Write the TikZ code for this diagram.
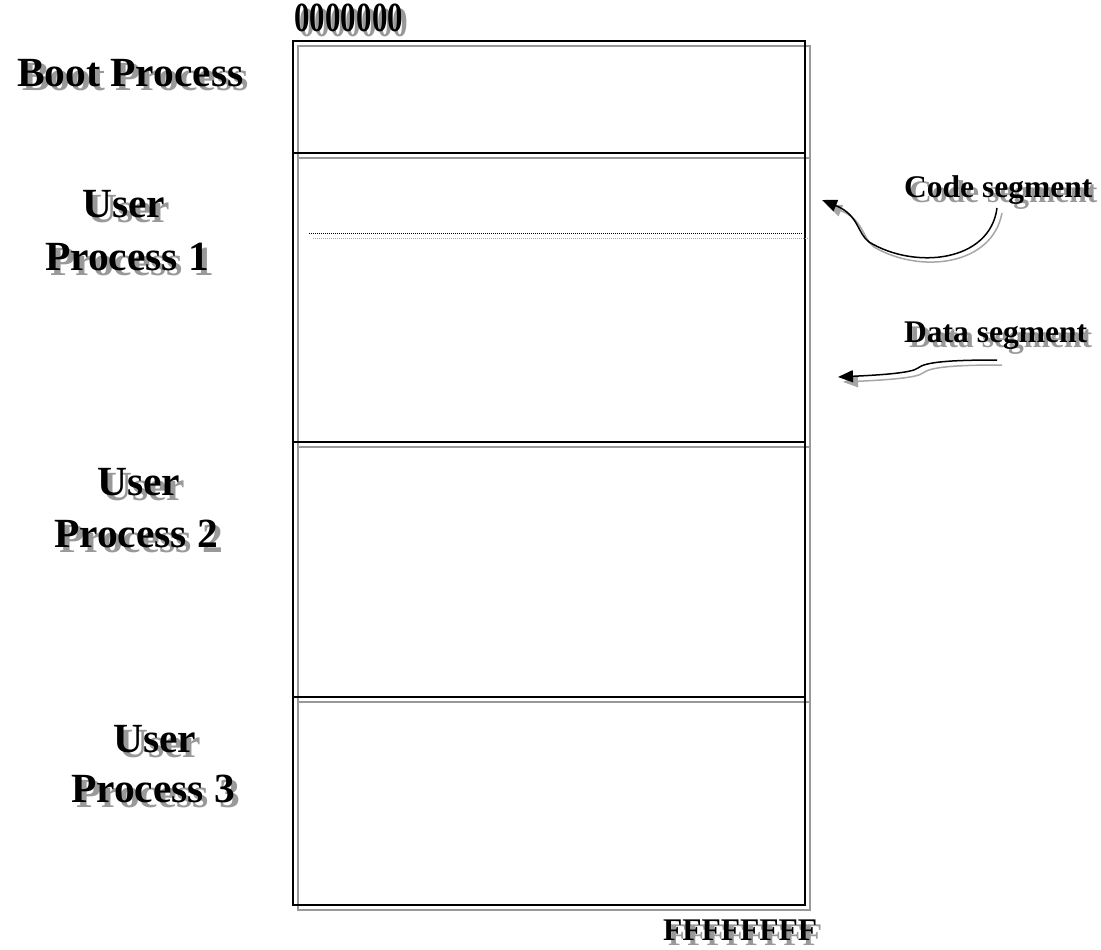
\documentclass[tikz,border=0pt]{standalone}
\usepackage{fontspec}
\setmainfont{Liberation Serif}
\usetikzlibrary{arrows.meta}
\tikzset{
  txt/.style={inner sep=0pt, anchor=base west, text=black},
  shtxt/.style={inner sep=0pt, anchor=base west, text=black!40},
  memblk/.style={draw=black, line width=1.6pt},
  memshadow/.style={draw=black!40, line width=1.6pt},
  pointer/.style={line width=1.5pt, -{Triangle[length=15pt,width=12pt]}},
  pointershadow/.style={line width=1.5pt, draw=black!35, -{Triangle[length=15pt,width=12pt]}, black!35},
}
\newcommand\stxt[5]{%
  \node[shtxt,font=#4] at (#2+5,#3+5) {#5};
  \node[txt,font=#4] (#1) at (#2,#3) {#5};}
\newcommand\bigf{\fontsize{41.5}{48}\selectfont\bfseries}
\newcommand\midf{\fontsize{31.5}{36}\selectfont\bfseries}
\begin{document}
\begin{tikzpicture}[x=1pt,y=-1pt]
\useasboundingbox (0,0) rectangle (1101,950);
% box shadows
\draw[memshadow] (298,46) rectangle (810,158);
\draw[memshadow] (298,158) rectangle (810,447);
\draw[memshadow] (298,447) rectangle (810,702);
\draw[memshadow] (298,702) rectangle (810,910);
% boxes
\draw[memblk] (293,41) rectangle (805,153);
\draw[memblk] (293,153) rectangle (805,442);
\draw[memblk] (293,442) rectangle (805,697);
\draw[memblk] (293,697) rectangle (805,905);
% dotted separator
\draw[black!35, line width=0.9pt, dash pattern=on 1pt off 1pt] (313,238) -- (808,238);
\draw[black, line width=0.9pt, dash pattern=on 1pt off 1pt] (309,233) -- (803,233);
% labels
\stxt{boot}{17}{86}{\bigf}{Boot Process}
\stxt{u1a}{82}{217}{\bigf}{User}
\stxt{u1b}{45}{270}{\bigf}{Process 1}
\stxt{u2a}{97}{495}{\bigf}{User}
\stxt{u2b}{54}{547}{\bigf}{Process 2}
\stxt{u3a}{113}{752}{\bigf}{User}
\stxt{u3b}{71}{802}{\bigf}{Process 3}
\stxt{top}{294}{32}{\bigf}{\scalebox{0.75}[1]{0000000}}
\stxt{bot}{663}{940}{\midf}{FFFFFFFF}
\stxt{code}{904}{197}{\midf}{Code segment}
\stxt{data}{904}{342}{\midf}{Data segment}
% arrow anchors
\coordinate (cs) at (997,208);
\coordinate (ct) at (822,200);
\coordinate (ds) at (997,360);
\coordinate (dt) at (838,377);
% arrow shadows
\draw[pointershadow] ([shift={(5,5)}]cs) .. controls (992,266) and (920,274) .. (874,247) .. controls (862,238) and (864,220) .. ([shift={(5,5)}]ct);
\draw[pointershadow] ([shift={(5,5)}]ds) .. controls (955,365) and (930,367) .. (923,373) .. controls (917,378) and (885,380) .. ([shift={(5,5)}]dt);
% arrows
\draw[pointer] (cs) .. controls (990,262) and (915,270) .. (869,242) .. controls (857,233) and (859,215) .. (ct);
\draw[pointer] (ds) .. controls (950,360) and (925,362) .. (918,368) .. controls (912,373) and (880,375) .. (dt);
\end{tikzpicture}
\end{document}
